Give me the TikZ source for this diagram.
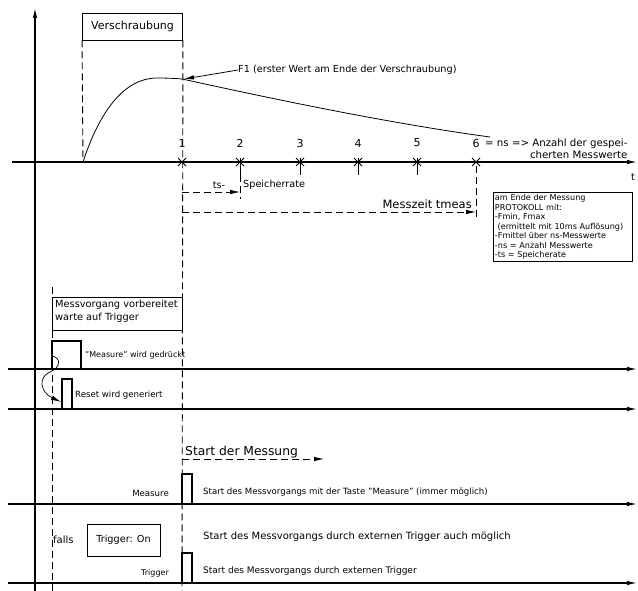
\documentclass[tikz,border=0pt]{standalone}
\usepackage{fontspec}
\setmainfont{DejaVu Sans}
\usetikzlibrary{arrows.meta, positioning, calc}

\begin{document}
\begin{tikzpicture}[
    x=1pt, y=-1pt,
    axis/.style={line width=1.2pt, -{Latex[length=10pt, width=4.5pt]}},
    guide/.style={line width=0.9pt, dash pattern=on 7pt off 4pt},
    pulse/.style={line width=1.3pt},
    tick/.style={line width=1pt},
    hint/.style={-{Latex[length=10pt, width=4.5pt]}, line width=0.8pt},
    txt/.style={inner sep=0pt, font=\fontsize{9.7}{11}\selectfont},
    small/.style={inner sep=0pt, font=\fontsize{8.6}{10}\selectfont},
    frame/.style={draw, line width=0.9pt},
]
    \useasboundingbox (0,0) rectangle (638,591);

    % Axes
    \coordinate (ytop) at (35,8);
    \coordinate (ybot) at (35,591);
    \draw[axis] (ybot) -- (ytop);
    \coordinate (t0) at (12,162);
    \coordinate (t1) at (637,162);
    \draw[axis] (t0) -- (t1);
    \node[txt, anchor=center] (tlab) at (633,177) {t};

    % Screwing phase
    \node[frame, txt, font=\fontsize{11}{12}\selectfont, minimum width=100pt, minimum height=27pt] (screw) at (132.5,26.5) {Verschraubung};
    \draw[guide] (screw.south west) -- (83,162);
    \draw[guide] (screw.south east) -- (182,591);

    % Force curve
    \draw[line width=0.8pt] (83,162) .. controls (100,110) and (125,78) .. (157,78)
        .. controls (168,78) and (176,78.5) .. (182,79)
        .. controls (260,96) and (380,122) .. (490,137);
    \coordinate (f1) at (184,79);
    \node[txt, anchor=west] (f1lab) at (238,70) {F1 (erster Wert am Ende der Verschraubung)};
    \draw[hint] (f1lab.west) -- (f1);

    % Samples
    \foreach \n/\x in {1/182, 2/240, 3/300, 4/358, 5/417, 6/476} {
        \draw[tick] (\x-4,158) -- (\x+4,166) (\x-4,166) -- (\x+4,158);
        \node[txt, font=\fontsize{11}{12}\selectfont] (n\n) at (\x,143) {\n};
    }
    \foreach \x in {240, 300, 358, 417} {
        \draw[tick] (\x,158) -- (\x,175);
    }
    \node[txt, anchor=west, align=right, font=\fontsize{10.2}{12}\selectfont] (nslab) at (485,149) {= ns => Anzahl der gespei-\\cherten Messwerte};

    % Storage rate and measuring time
    \draw[guide] (240,175) -- (240,199);
    \draw[guide] (476,166) -- (476,218);
    \coordinate (ts0) at (182,192);
    \coordinate (ts1) at (240,192);
    \draw[guide, hint] (ts0) -- (ts1);
    \node[txt, anchor=center] (tslab) at (219,185) {ts-};
    \node[txt, anchor=west] (rate) at (243,185) {Speicherrate};
    \coordinate (tm0) at (182,212);
    \coordinate (tm1) at (476,212);
    \draw[guide, hint] (tm0) -- (tm1);
    \node[txt, anchor=east, font=\fontsize{11.5}{12}\selectfont] (tmlab) at (472,204) {Messzeit tmeas};

    % Protocol
    \node[frame, anchor=north west, align=left, text width=136pt, inner xsep=1.5pt, inner ysep=2pt,
          font=\fontsize{8.1}{9.5}\selectfont] (proto) at (493,192)
        {am Ende der Messung\\PROTOKOLL mit:\\-Fmin, Fmax\\\ (ermittelt mit 10ms Auflösung)\\-Fmittel über ns-Messwerte\\-ns = Anzahl Messwerte\\-ts = Speicherate};

    % Waiting for trigger
    \draw[guide] (52,287) -- (52,591);
    \draw[line width=0.9pt] (52,297) rectangle (182,330);
    \node[txt, anchor=north west, align=left, font=\fontsize{9.8}{12.5}\selectfont] (ready) at (55,300)
        {Messvorgang vorbereitet\\warte auf Trigger};

    % Signals
    \foreach \y in {369, 409, 504, 583} {
        \draw[axis] (8,\y) -- (637,\y);
    }
    \draw[pulse] (52,369) -- (52,341) -- (81,341) -- (81,369);
    \node[small, anchor=west, font=\fontsize{8}{9}\selectfont] (press) at (85,355) {"Measure" wird gedrückt};
    \draw[pulse] (62,409) -- (62,379) -- (72,379) -- (72,409);
    \node[small, anchor=west] (reset) at (75,395) {Reset wird generiert};
    \coordinate (c0) at (52,356);
    \coordinate (c1) at (61,402);
    \draw[hint, line width=0.7pt] (c0) .. controls (62,358) and (60,368) .. (50,372)
        .. controls (38,377) and (40,392) .. (c1);

    % Start of measurement
    \node[txt, anchor=west, font=\fontsize{12.3}{13}\selectfont] (start) at (185,452) {Start der Messung};
    \coordinate (s0) at (182,459);
    \coordinate (s1) at (324,459);
    \draw[guide, hint] (s0) -- (s1);

    \draw[pulse] (182,504) -- (182,474) -- (192,474) -- (192,504);
    \node[small, anchor=east] (meas) at (169,493) {Measure};
    \node[small, anchor=west] (measlab) at (203,492) {Start des Messvorgangs mit der Taste "Measure" (immer möglich)};

    \node[txt, anchor=west, font=\fontsize{10}{11}\selectfont] (falls) at (53,540) {falls};
    \node[frame, txt, minimum width=73pt, minimum height=32pt] (trigon) at (123.5,540) {Trigger: On};
    \node[txt, anchor=west, font=\fontsize{10}{11}\selectfont] (alsotrig) at (203,537) {Start des Messvorgangs durch externen Trigger auch möglich};

    \draw[pulse] (182,583) -- (182,553) -- (192,553) -- (192,583);
    \node[small, anchor=east, font=\fontsize{8}{9}\selectfont] (trig) at (169,573) {Trigger};
    \node[small, anchor=west, font=\fontsize{9}{10}\selectfont] (triglab) at (203,571) {Start des Messvorgangs durch externen Trigger};

\end{tikzpicture}
\end{document}
